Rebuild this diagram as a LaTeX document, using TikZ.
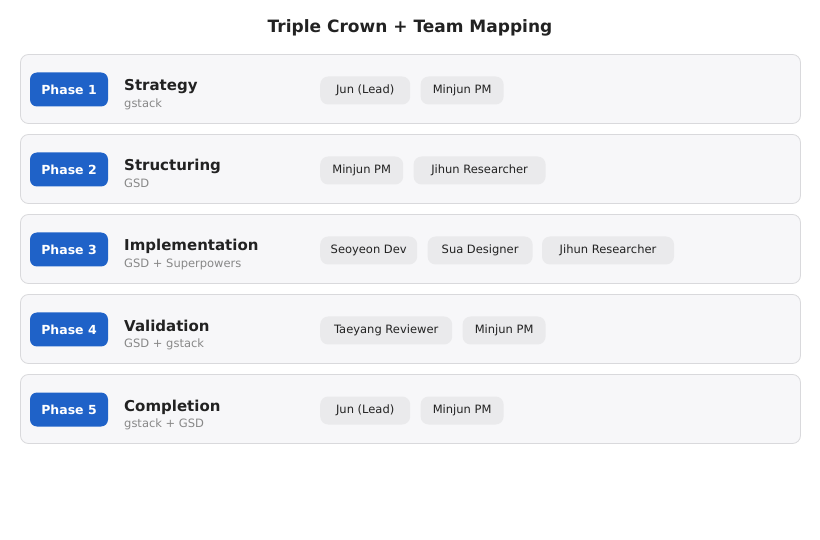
\documentclass[tikz,border=0pt]{standalone}
\usepackage{fontspec}
\setmainfont{DejaVu Sans}
\usetikzlibrary{positioning}
\definecolor{rowfill}{HTML}{F7F7F9}
\definecolor{rowline}{HTML}{D9D9DC}
\definecolor{badge}{HTML}{1F62C8}
\definecolor{chipfill}{HTML}{EAEAEC}
\definecolor{ink}{HTML}{222222}
\definecolor{subink}{HTML}{888888}
\tikzset{
  x=1pt, y=-1pt,
  rowbox/.style={draw=rowline, fill=rowfill, rounded corners=8pt, line width=0.8pt},
  badgebox/.style={fill=badge, rounded corners=7pt, minimum width=78pt, minimum height=34pt, inner sep=0pt, text=white, font=\fontsize{12.5}{14}\selectfont\bfseries},
  headtxt/.style={anchor=base west, inner sep=0pt, text=ink, font=\fontsize{15}{17}\selectfont\bfseries},
  subtxt/.style={anchor=base west, inner sep=0pt, text=subink, font=\fontsize{11.5}{13}\selectfont},
  chip/.style={fill=chipfill, rounded corners=8pt, minimum height=28pt, minimum width=#1, inner xsep=0pt, inner ysep=0pt, text=ink, font=\fontsize{11.5}{13}\selectfont},
  titletxt/.style={text=ink, font=\fontsize{17}{20}\selectfont\bfseries},
}
\begin{document}
\begin{tikzpicture}
\useasboundingbox (0,0) rectangle (820,540);
\node[titletxt] (title) at (410,27.5) {Triple Crown + Team Mapping};
\foreach \i/\ph/\head/\sub in {1/Phase 1/Strategy/gstack, 2/Phase 2/Structuring/GSD, 3/Phase 3/Implementation/GSD + Superpowers, 4/Phase 4/Validation/GSD + gstack, 5/Phase 5/Completion/gstack + GSD}{
  \pgfmathsetmacro{\cy}{89+80*(\i-1)}
  \draw[rowbox] (20.5,\cy-34.5) rectangle (800.5,\cy+34.5);
  \node[badgebox] (b\i) at (69,\cy+0.5) {\ph};
  \node[headtxt] (h\i) at (124,\cy+2) {\head};
  \node[subtxt] (s\i) at (124,\cy+18.5) {\sub};
}
% chips
\node[chip=90pt, anchor=west] (c11) at (320,90.5) {Jun (Lead)};
\node[chip=83pt, right=10pt of c11] (c12) {Minjun PM};
\node[chip=83pt, anchor=west] (c21) at (320,170.5) {Minjun PM};
\node[chip=132pt, right=10pt of c21] (c22) {Jihun Researcher};
\node[chip=97pt, anchor=west] (c31) at (320,250.5) {Seoyeon Dev};
\node[chip=105pt, right=10pt of c31] (c32) {Sua Designer};
\node[chip=132pt, right=9pt of c32] (c33) {Jihun Researcher};
\node[chip=132pt, anchor=west] (c41) at (320,330.5) {Taeyang Reviewer};
\node[chip=83pt, right=10pt of c41] (c42) {Minjun PM};
\node[chip=90pt, anchor=west] (c51) at (320,410.5) {Jun (Lead)};
\node[chip=83pt, right=10pt of c51] (c52) {Minjun PM};
\end{tikzpicture}
\end{document}
